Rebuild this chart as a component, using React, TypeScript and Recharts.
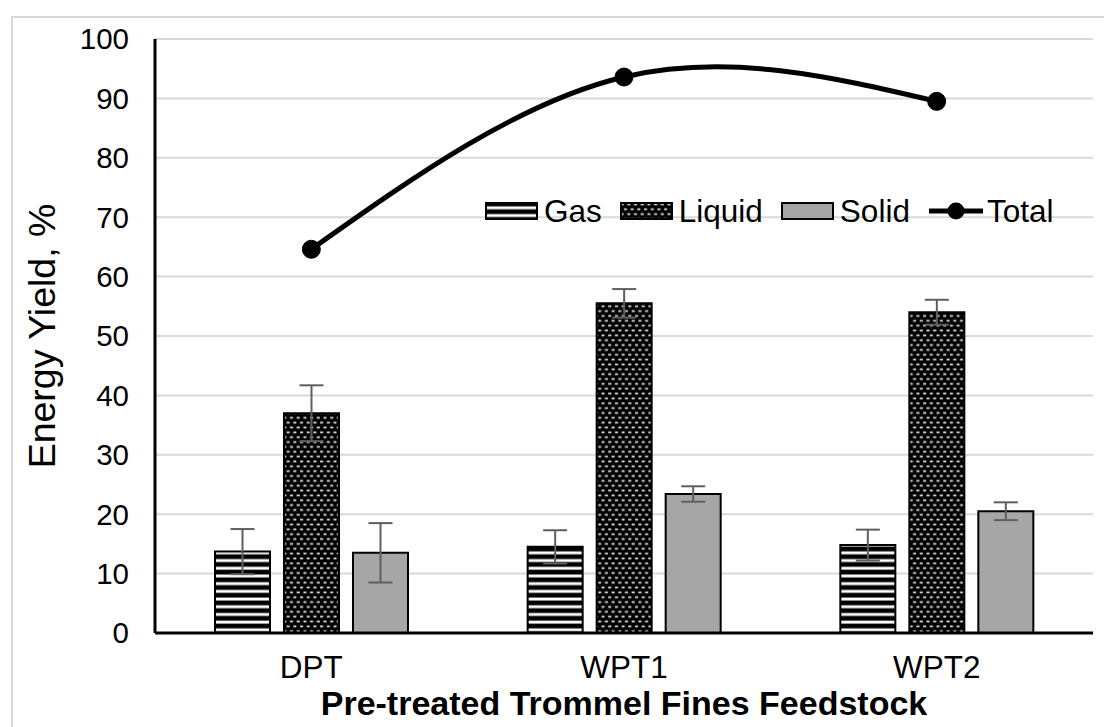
import React from 'react';
import { ComposedChart, Bar, Line, XAxis, YAxis, CartesianGrid, ErrorBar, Label } from 'recharts';

const FONT = '"Liberation Sans", Arial, Helvetica, sans-serif';

const categories = ['DPT', 'WPT1', 'WPT2'];
const gasValues = [13.7, 14.5, 14.8];
const gasErrors = [3.8, 2.8, 2.6];
const liquidValues = [37.0, 55.5, 54.0];
const liquidErrors = [4.7, 2.4, 2.1];
const solidValues = [13.5, 23.4, 20.5];
const solidErrors = [5.0, 1.3, 1.5];
const totalValues = [64.6, 93.6, 89.5];
const yTicks = [0, 10, 20, 30, 40, 50, 60, 70, 80, 90, 100];
const seriesKeys = ['gas', 'liquid', 'solid', 'total'];
const seriesNames = ['Gas', 'Liquid', 'Solid', 'Total'];

const data = categories.map((c, i) => ({
  category: c,
  gas: gasValues[i],
  gasErr: gasErrors[i],
  liquid: liquidValues[i],
  liquidErr: liquidErrors[i],
  solid: solidValues[i],
  solidErr: solidErrors[i],
  total: totalValues[i],
}));

const Swatch = ({ kind }: { kind: string }) => {
  if (kind === 'total') {
    return (
      <svg width={56} height={20} style={{ display: 'block' }}>
        <line x1={1} y1={10} x2={55} y2={10} stroke="#000" strokeWidth={5} />
        <circle cx={28} cy={10} r={8.5} fill="#000" />
      </svg>
    );
  }
  const fill = kind === 'gas' ? 'url(#gasPattern)' : kind === 'liquid' ? 'url(#liquidPattern)' : '#A6A6A6';
  return (
    <svg width={53} height={18} style={{ display: 'block' }}>
      <rect x={1} y={1} width={51} height={16} fill={fill} stroke="#000" strokeWidth={2} />
    </svg>
  );
};

const LegendBox = () => (
  <div style={{ position: 'absolute', left: 485, top: 192, display: 'flex', alignItems: 'center', fontFamily: FONT, fontSize: 31.5, color: '#000', whiteSpace: 'nowrap', lineHeight: '38px' }}>
    {seriesKeys.map((k, i) => (
      <div key={k} style={{ display: 'flex', alignItems: 'center', marginRight: 18 }}>
        <div style={{ marginRight: k === 'total' ? 3 : 6 }}>
          <Swatch kind={k} />
        </div>
        <span>{seriesNames[i]}</span>
      </div>
    ))}
  </div>
);

export default function App() {
  return (
    <div style={{ position: 'relative', width: 1104, height: 727, overflow: 'hidden', background: '#fff' }}>
      <style>{'html,body{margin:0;padding:0;overflow:hidden;}'}</style>
      <svg width={0} height={0} style={{ position: 'absolute', left: 0, top: 0 }}>
        <defs>
          <pattern id="gasPattern" patternUnits="userSpaceOnUse" width={8} height={7.7}>
            <rect x={0} y={0} width={8} height={7.7} fill="#000" />
            <rect x={0} y={4.4} width={8} height={2.9} fill="#fff" />
          </pattern>
          <pattern id="liquidPattern" patternUnits="userSpaceOnUse" width={6.7} height={9.7}>
            <rect x={0} y={0} width={6.7} height={9.7} fill="#000" />
            <rect x={0.6} y={1.5} width={3} height={1.8} fill="#e0e0e0" />
            <rect x={3.95} y={6.35} width={2.75} height={1.8} fill="#e0e0e0" />
            <rect x={0} y={6.35} width={0.25} height={1.8} fill="#e0e0e0" />
          </pattern>
        </defs>
      </svg>
      <div style={{ position: 'absolute', left: 11, top: 16, width: 3000, height: 3000, border: '2px solid #d9d9d9', boxSizing: 'border-box' }} />
      <div style={{ position: 'absolute', left: 8, top: 8 }}>
        <ComposedChart
          width={1088}
          height={719}
          data={data}
          margin={{ top: 31, right: 3, bottom: 0, left: 0 }}
          barSize={55}
          barGap={14}
          style={{ fontFamily: FONT }}
        >
          <CartesianGrid vertical={false} stroke="#d9d9d9" strokeWidth={2} />
          <XAxis
            dataKey="category"
            axisLine={{ stroke: '#000', strokeWidth: 3 }}
            tickLine={false}
            tickMargin={17}
            height={94}
            tick={{ fontSize: 31.5, fill: '#000', fontFamily: FONT }}
          >
            <Label
              value="Pre-treated Trommel Fines Feedstock"
              position="insideBottom"
              offset={12}
              style={{ fontSize: 34, fontWeight: 700, fill: '#000', fontFamily: FONT }}
            />
          </XAxis>
          <YAxis
            width={147}
            domain={[0, 100]}
            ticks={yTicks}
            interval={0}
            tickLine={false}
            tickMargin={20}
            axisLine={{ stroke: '#000', strokeWidth: 3 }}
            tick={{ fontSize: 29.5, fill: '#000', fontFamily: FONT }}
          >
            <Label
              value="Energy Yield, %"
              angle={-90}
              position="insideLeft"
              offset={34}
              style={{ textAnchor: 'middle', fontSize: 37.5, fill: '#000', fontFamily: FONT }}
            />
          </YAxis>
          <Bar dataKey="gas" name="Gas" fill="url(#gasPattern)" stroke="#000" strokeWidth={2} isAnimationActive={false}>
            <ErrorBar dataKey="gasErr" width={12} stroke="#5f5f5f" strokeWidth={2} direction="y" />
          </Bar>
          <Bar dataKey="liquid" name="Liquid" fill="url(#liquidPattern)" stroke="#000" strokeWidth={2} isAnimationActive={false}>
            <ErrorBar dataKey="liquidErr" width={12} stroke="#5f5f5f" strokeWidth={2} direction="y" />
          </Bar>
          <Bar dataKey="solid" name="Solid" fill="#A6A6A6" stroke="#000" strokeWidth={2} isAnimationActive={false}>
            <ErrorBar dataKey="solidErr" width={12} stroke="#5f5f5f" strokeWidth={2} direction="y" />
          </Bar>
          <Line
            type="natural"
            dataKey="total"
            name="Total"
            stroke="#000"
            strokeWidth={5}
            dot={{ r: 9, fill: '#000', stroke: '#000', strokeWidth: 1 }}
            activeDot={false}
            isAnimationActive={false}
          />
        </ComposedChart>
      </div>
      <LegendBox />
    </div>
  );
}
